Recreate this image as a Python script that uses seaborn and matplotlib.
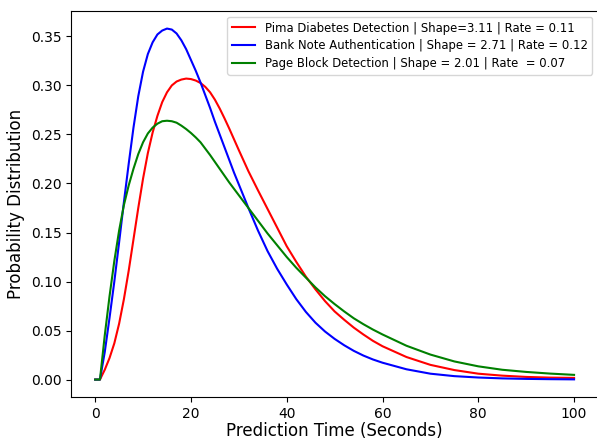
import matplotlib
matplotlib.use("Agg")
import matplotlib.pyplot as plt
import seaborn as sns

# --- Data ---
# time grid: 0..30 by 1, 32..60 by 2, 65..100 by 5
TIME = list(range(0, 31)) + list(range(32, 61, 2)) + list(range(65, 101, 5))

PIMA = [0, 0, 0.010, 0.022, 0.037, 0.057, 0.082, 0.111, 0.143, 0.175, 0.205,
        0.231, 0.252, 0.269, 0.283, 0.293, 0.300, 0.304, 0.306, 0.307, 0.3065,
        0.305, 0.3025, 0.2985, 0.293, 0.2855, 0.2765, 0.2665, 0.256, 0.245, 0.234,
        0.2125, 0.193, 0.174, 0.155, 0.136, 0.120, 0.105, 0.092, 0.080, 0.0695,
        0.061, 0.053, 0.046, 0.0395, 0.034,
        0.023, 0.015, 0.0097, 0.006, 0.004, 0.0027, 0.002, 0.0017]

BANK = [0, 0, 0.028, 0.063, 0.100, 0.140, 0.181, 0.220, 0.257, 0.289, 0.314,
        0.332, 0.344, 0.352, 0.356, 0.358, 0.357, 0.353, 0.346, 0.337, 0.326,
        0.315, 0.303, 0.290, 0.277, 0.263, 0.250, 0.237, 0.224, 0.211, 0.199,
        0.175, 0.152, 0.131, 0.113, 0.097, 0.082, 0.069, 0.058, 0.049, 0.0415,
        0.035, 0.0293, 0.0245, 0.0205, 0.0172,
        0.0105, 0.0060, 0.0035, 0.0021, 0.0012, 0.0007, 0.0004, 0.0002]

PAGE = [0, 0, 0.045, 0.085, 0.121, 0.152, 0.178, 0.198, 0.215, 0.230, 0.242,
        0.251, 0.257, 0.261, 0.2635, 0.264, 0.2635, 0.262, 0.259, 0.2555, 0.2515,
        0.247, 0.242, 0.2355, 0.229, 0.222, 0.215, 0.208, 0.201, 0.1945, 0.188,
        0.175, 0.162, 0.149, 0.137, 0.125, 0.114, 0.104, 0.094, 0.085, 0.077,
        0.0695, 0.0625, 0.0565, 0.051, 0.046,
        0.0345, 0.0255, 0.0185, 0.0135, 0.0100, 0.0078, 0.0061, 0.0048]

LABELS = [
    "Pima Diabetes Detection | Shape=3.11 | Rate = 0.11",
    "Bank Note Authentication | Shape = 2.71 | Rate = 0.12",
    "Page Block Detection | Shape = 2.01 | Rate  = 0.07",
]
COLORS = ["red", "blue", "green"]

fig = plt.figure(figsize=(5.97, 4.41), dpi=100)
ax = fig.add_axes([0.1193, 0.0995, 0.8824, 0.8755])

for series, label, color in zip([PIMA, BANK, PAGE], LABELS, COLORS):
    sns.lineplot(x=TIME, y=series, color=color, label=label, linewidth=1.5, ax=ax)

ax.set_xlabel("Prediction Time (Seconds)", fontsize=12, labelpad=1)
ax.set_ylabel("Probability Distribution", fontsize=12)
ax.tick_params(labelsize=10)
ax.legend(loc="upper right", fontsize=8.4, labelspacing=0.4)

fig.savefig("out.png", dpi=100)
